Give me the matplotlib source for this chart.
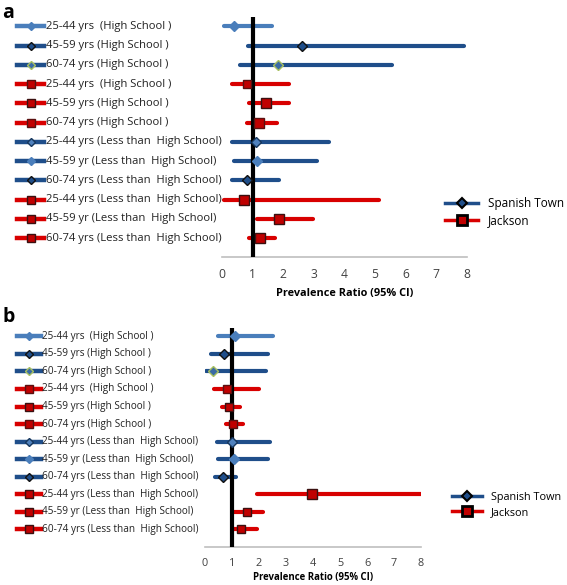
import matplotlib
matplotlib.use("Agg")
import matplotlib.pyplot as plt
from matplotlib.lines import Line2D
import matplotlib.transforms as mtransforms

plt.rcParams['font.family'] = ['Open Sans', 'DejaVu Sans']

labels = ["25-44 yrs  (High School )", "45-59 yrs (High School )", "60-74 yrs (High School )",
          "25-44 yrs  (High School )", "45-59 yrs (High School )", "60-74 yrs (High School )",
          "25-44 yrs (Less than  High School)", "45-59 yr (Less than  High School)",
          "60-74 yrs (Less than  High School)", "25-44 yrs (Less than  High School)",
          "45-59 yr (Less than  High School)", "60-74 yrs (Less than  High School)"]

# panel a: prevalence ratio and 95% CI
a_pr = [0.39, 2.60, 1.83, 0.82, 1.43, 1.21, 1.09, 1.15, 0.80, 0.72, 1.86, 1.23]
a_lo = [0.06, 0.83, 0.58, 0.31, 0.88, 0.80, 0.31, 0.39, 0.31, 0.07, 1.15, 0.87]
a_hi = [1.64, 7.92, 5.57, 2.19, 2.19, 1.80, 3.50, 3.11, 1.86, 5.14, 2.96, 1.73]

# panel b
b_pr = [1.11, 0.70, 0.31, 0.81, 0.88, 1.05, 1.01, 1.09, 0.67, 3.97, 1.54, 1.35]
b_lo = [0.47, 0.21, 0.03, 0.33, 0.63, 0.78, 0.43, 0.47, 0.38, 1.94, 1.09, 1.02]
b_hi = [2.52, 2.33, 2.26, 2.00, 1.30, 1.40, 2.40, 2.35, 1.15, 8.00, 2.16, 1.91]

xticks = [0, 1, 2, 3, 4, 5, 6, 7, 8]

LBLUE = "#4A7EBB"
DBLUE = "#1F4E8A"
RED = "#D80000"
MRED = "#C00000"

line_col = [LBLUE, DBLUE, DBLUE, RED, RED, RED, DBLUE, DBLUE, DBLUE, RED, RED, RED]
mk = ['D', 'D', 'D', 's', 's', 's', 'D', 'D', 'D', 's', 's', 's']
mk_face = [LBLUE, DBLUE, "#3B6BA5", MRED, MRED, MRED, "#4F81BD", "#4A7EBB", DBLUE, MRED, MRED, MRED]
mk_edge = [LBLUE, "#111111", "#A8C060", "#5A1010", "#3A1010", "#5A1010", "#16365C", "#4A7EBB",
           "#111111", "#3A1010", "#3A1010", "#3A1010"]
mk_size_a = [5.5, 5.5, 5.5, 6, 7, 7, 5.5, 5.5, 5.5, 7, 7, 7]
mk_size_b = [5, 5, 5, 6, 6, 6, 5, 5, 5, 7, 6, 6]

fig = plt.figure(figsize=(5.67, 5.85), dpi=100)


def panel(rect, pr, lo, hi, sizes, fs, letter, letter_y, label_x, line_x0, line_x1,
          leg_anchor, leg_fs, lpad):
    ax = fig.add_axes(rect)
    ys = list(range(len(labels)))
    for i in ys:
        ax.plot([lo[i], hi[i]], [i, i], color=line_col[i], lw=3, solid_capstyle='round', zorder=2)
        ax.plot(pr[i], i, marker=mk[i], ms=sizes[i], mfc=mk_face[i], mec=mk_edge[i], mew=1.0,
                zorder=4, clip_on=False)
    ax.vlines(1, -0.5, 12, color='black', lw=3, zorder=3)
    ax.set_xlim(0, 8)
    ax.set_ylim(12, -0.5)
    ax.set_xticks(xticks)
    ax.tick_params(axis='x', length=0, labelsize=fs + 0.6, colors='#404040', pad=8)
    ax.set_yticks([])
    for s in ['top', 'right', 'left']:
        ax.spines[s].set_visible(False)
    ax.spines['bottom'].set_color('#BFBFBF')
    ax.spines['bottom'].set_linewidth(1.2)
    ax.set_xlabel("Prevalence Ratio (95% CI)", fontsize=fs - 0.3, fontweight='bold', labelpad=lpad)

    # row labels with their own line/marker keys on the left
    tr = mtransforms.blended_transform_factory(fig.transFigure, ax.transData)
    for i in ys:
        ax.plot([line_x0, line_x1], [i, i], transform=tr, color=line_col[i], lw=3.2,
                clip_on=False, zorder=2)
        ax.plot((line_x0 + line_x1) / 2, i, transform=tr, marker=mk[i], ms=4.5 if mk[i] == 'D' else 5.5,
                mfc=mk_face[i], mec=mk_edge[i], mew=1.0, clip_on=False, zorder=3)
        ax.text(label_x, i, labels[i], transform=tr, fontsize=fs, va='center', ha='left',
                color='#222222')

    handles = [Line2D([], [], color=DBLUE, lw=2.5, marker='D', ms=5, mfc=DBLUE, mec='black', mew=1.5),
               Line2D([], [], color=RED, lw=2.5, marker='s', ms=7, mfc=MRED, mec='black', mew=2)]
    fig.legend(handles, ["Spanish Town", "Jackson"], loc='center left', bbox_to_anchor=leg_anchor,
               frameon=False, fontsize=leg_fs, handlelength=2.8, labelspacing=0.4, handletextpad=0.8,
               borderaxespad=0, borderpad=0)
    fig.text(0.004, letter_y, letter, fontsize=14, fontweight='bold', va='center')
    return ax


panel([0.392, 0.5602, 0.431, 0.4113], a_pr, a_lo, a_hi, mk_size_a, 8.1, 'a', 0.978,
      46 / 567, 17 / 567, 44 / 567, (445 / 567, 1 - 212 / 585), 8.5, 5)
panel([0.3616, 0.0655, 0.381, 0.3744], b_pr, b_lo, b_hi, mk_size_b, 7.2, 'b', 1 - 317 / 585,
      42.5 / 567, 17 / 567, 41 / 567, (452 / 567, 1 - 505 / 585), 7.8, 2)

fig.savefig("out.png", dpi=100)
